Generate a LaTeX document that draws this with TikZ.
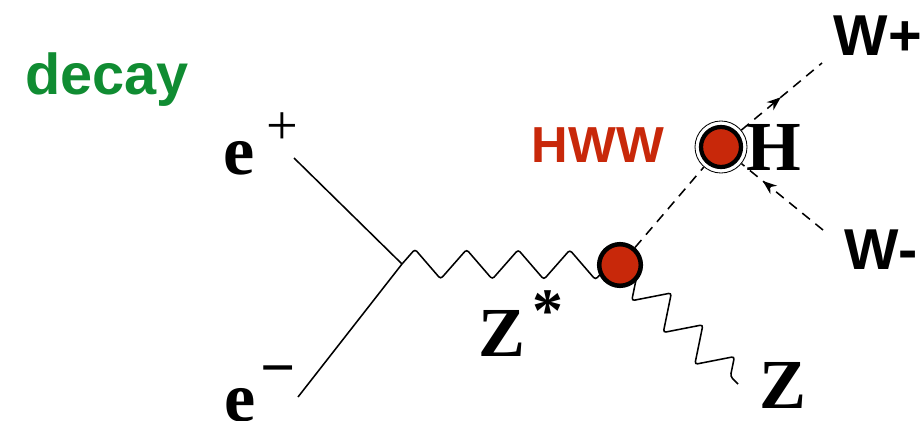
\documentclass[tikz,border=0pt]{standalone}
\usepackage{fontspec}
\newfontfamily\lser{Liberation Serif}
\newfontfamily\lsans{Liberation Sans}
\usetikzlibrary{decorations.pathmorphing,decorations.markings,arrows.meta}
\definecolor{blobred}{RGB}{200,40,10}
\definecolor{dgreen}{RGB}{16,140,50}
\begin{document}
\begin{tikzpicture}[x=0.025cm,y=-0.025cm,
  fermion/.style={line width=1.1pt},
  boson/.style={line width=1.1pt, rounded corners=2pt, decorate, decoration={zigzag, segment length=1.29cm, amplitude=0.37cm}},
  zboson/.style={line width=1.1pt, rounded corners=2pt, decorate, decoration={zigzag, segment length=1.12cm, amplitude=0.42cm}},
  scalar/.style={line width=1.1pt, dash pattern=on 7pt off 5pt},
  blob/.style={circle, fill=blobred, draw=black, line width=3.2pt, minimum size=1.04cm, inner sep=0pt},
  ring/.style={circle, draw=black, line width=0.6pt, fill=white, minimum size=1.3cm, inner sep=0pt},
  lbl/.style={inner sep=0pt, font=\lser\bfseries\fontsize{50}{60}\selectfont},
  suplbl/.style={inner sep=0pt, font=\lser\fontsize{40}{48}\selectfont},
  sanslbl/.style={inner sep=0pt, font=\lsans\bfseries\fontsize{41}{48}\selectfont},
  midarrow/.style={postaction={decorate}, decoration={markings, mark=at position #1 with {\arrow{Stealth[length=10pt,width=7.5pt]}}}}
]
\useasboundingbox (0,0) rectangle (924,420);
\coordinate (v1) at (402,264);
\coordinate (ep) at (294,158);
\coordinate (em) at (298,397);
\coordinate (bc) at (620,265);
\coordinate (zend) at (738,384);
\coordinate (wp) at (822,63);
\coordinate (wm) at (823,230);

\draw[fermion] (ep) -- (v1);
\draw[fermion] (em) -- (v1);
\draw[boson] (v1) -- (bc);
\draw[zboson] (bc) -- (zend);
\node[ring] (hb) at (721,147) {};
\node[blob] (b1) at (bc) {};
\node[blob, line width=3pt, minimum size=1.0cm] (h1) at (hb) {};
\draw[scalar] (b1) -- (hb);
\draw[scalar, midarrow=0.49] (hb) -- (wp);
\draw[scalar, midarrow=0.74] (wm) -- (hb);

\node[lbl] (eplus) at (239,158) {e};
\node[suplbl] (plus) at (282,129) {+};
\node[lbl] (eminus) at (240,405) {e};
\node[suplbl, font=\lser\bfseries\fontsize{44}{48}\selectfont] (minus) at (278,377) {−};
\node[lbl] (zstar) at (502,333) {Z};
\node[suplbl, font=\lser\bfseries\fontsize{44}{48}\selectfont] (star) at (548,311) {*};
\node[lbl] (zlbl) at (783,385) {Z};
\node[lbl] (hlbl) at (774,147) {H};
\node[sanslbl] (wplus) at (878,36) {W+};
\node[sanslbl] (wminus) at (881,250) {W-};
\node[sanslbl, text=blobred, font=\lsans\bfseries\fontsize{36}{42}\selectfont] (hww) at (598,145) {HWW};
\node[sanslbl, text=dgreen, anchor=base west] (decay) at (25,95) {decay};
\end{tikzpicture}
\end{document}
